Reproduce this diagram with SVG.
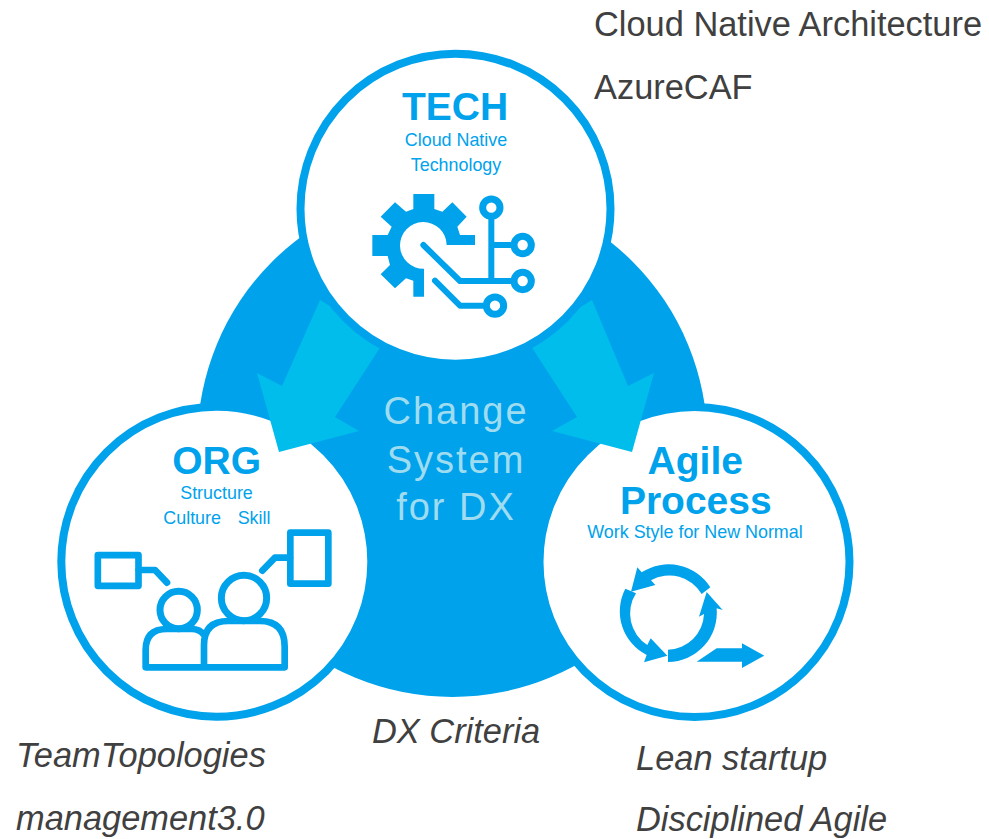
<svg xmlns="http://www.w3.org/2000/svg" width="989" height="839" viewBox="0 0 989 839">
<style>
.ring{fill:#fff;stroke:#00a2ec;stroke-width:8}
.b{font-family:"Liberation Sans",Arial,sans-serif;fill:#00a2ec;text-anchor:middle}
.h{font-weight:700;font-size:39px}
.s{font-size:17.900px}
.c{font-family:"Liberation Sans",Arial,sans-serif;font-size:38px;fill:#9fdcf0;text-anchor:middle;letter-spacing:2px}
.t{font-family:"Liberation Sans",Arial,sans-serif;font-size:34.400px;fill:#404040}
.i{font-style:italic}
.ln{fill:none;stroke:#00a2ec;stroke-width:20;stroke-linecap:round;stroke-linejoin:round}
.rn{fill:#fff;stroke:#00a2ec;stroke-width:21}
.f{fill:#00a2ec}
.ar{fill:#00bdec}
</style>
<rect width="989" height="839" fill="#fff"/>
<g id="core"><circle cx="452.400" cy="442" r="255" class="f"/></g>
<g id="org">
<circle cx="216.300" cy="561.700" r="155" class="ring"/>
<text class="b h" x="216.700" y="474">ORG</text>
<text class="b s" x="216.500" y="499.300">Structure</text>
<text class="b s" x="163.300" y="524" style="text-anchor:start">Culture</text>
<text class="b s" x="237.700" y="524" style="text-anchor:start">Skill</text>
<g transform="translate(40 390) scale(.33333)">
<rect class="ln" x="173.500" y="495.500" width="122" height="92"/>
<rect class="ln" x="751" y="428" width="114" height="153"/>
<path class="ln" d="M296 540H345L381 578M667 542L705 503H750"/>
<circle class="rn" cx="416" cy="660" r="56"/>
<circle class="rn" cx="612" cy="624" r="68"/>
<path class="ln" d="M492 832V765Q492 693 565 693H660Q734 693 734 770V832ZM492 832H317V780Q317 717 380 717H455Q480 717 492 735"/>
</g>
</g>
<g id="agile">
<circle cx="694.500" cy="562" r="155" class="ring"/>
<text class="b h" x="695.300" y="474">Agile</text>
<text class="b h" x="695.800" y="514">Process</text>
<text class="b s" x="695" y="538">Work Style for New Normal</text>
<g transform="translate(530 390) scale(.33333)" class="f">
<path d="M541 592A148 148 0 0 0 335 547L322 532L303 605L376 585L363 571A112 112 0 0 1 515 612Z"/>
<path d="M286 596L318 610A112 112 0 0 0 352 765L362 745L412 797L342 817L350 795A147 147 0 0 1 286 596Z"/>
<path d="M414 779A111 111 0 0 0 522 672L507 680L530 606L578 660L560 655A148 148 0 0 1 414 816Z"/>
<path d="M500 815L560 775H636V760L703 797L636 834V815Z"/>
</g>
</g>
<g id="connectors">
<path class="ar" d="M320 300L385 340L335 417L359 431L279 452L257 373L282 386Z"/>
<path class="ar" d="M592 300L527 340L577 417L552 431L632 452L654 373L628 386Z"/>
</g>
<g id="center-label">
<text class="c" x="456" y="424">Change</text>
<text class="c" x="456" y="473">System</text>
<text class="c" x="456" y="520">for DX</text>
</g>
<g id="tech">
<circle cx="455.500" cy="208.700" r="155" class="ring"/>
<text class="b h" x="455" y="120">TECH</text>
<text class="b s" x="456" y="145.700">Cloud Native</text>
<text class="b s" x="456" y="170.700">Technology</text>
<g transform="translate(280 30) scale(.33333)">
<path class="f" d="M400 492H463V537L487 545L517 517L560 560L532 590L540 615H585V645H500A70 70 0 1 0 432 716V800H400V752L378 745L345 775L302 733L330 705L323 678H277V615H323L335 590L302 560L345 517L378 545L400 537Z"/>
<path class="ln" style="stroke-width:18" d="M430 645L540 753H727M634 535V753M634 645H727M465 752L540 827H645"/>
<circle class="rn" cx="634" cy="533" r="26"/>
<circle class="rn" cx="728" cy="645" r="26"/>
<circle class="rn" cx="728" cy="753" r="26"/>
<circle class="rn" cx="645" cy="827" r="26"/>
</g>
</g>
<g id="labels">
<text class="t" x="594" y="36">Cloud Native Architecture</text>
<text class="t" x="594" y="99">AzureCAF</text>
<text class="t i" x="16" y="767">TeamTopologies</text>
<text class="t i" x="16" y="830">management3.0</text>
<text class="t i" x="372" y="743">DX Criteria</text>
<text class="t i" x="636" y="770">Lean startup</text>
<text class="t i" x="636" y="831">Disciplined Agile</text>
</g>
</svg>
